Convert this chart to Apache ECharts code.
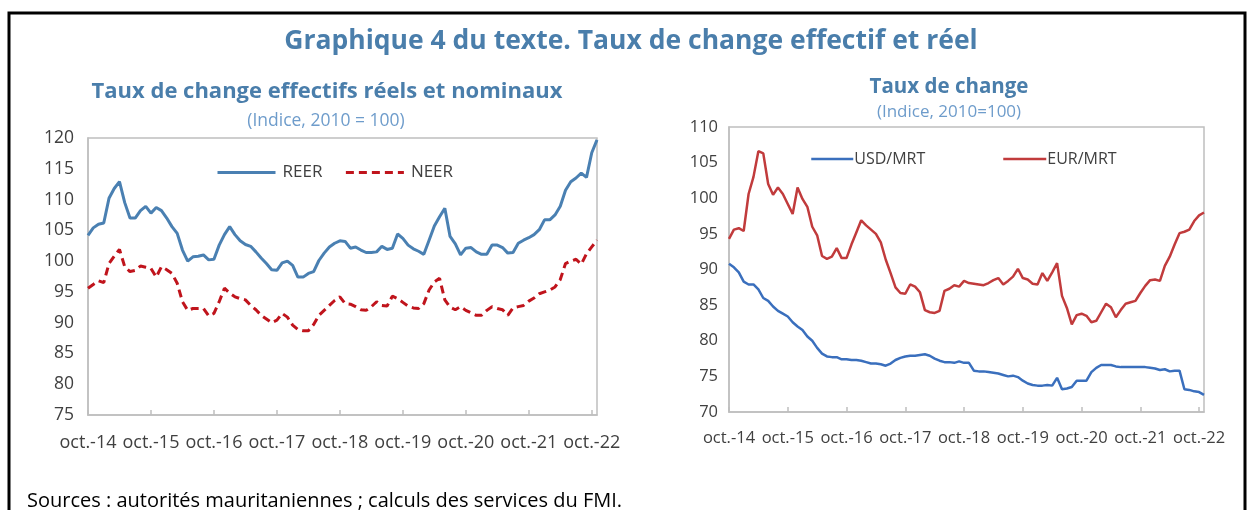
<!DOCTYPE html>
<html>
<head>
<meta charset="utf-8">
<script src="https://cdn.jsdelivr.net/npm/echarts@6/dist/echarts.min.js"></script>
<style>
html,body{margin:0;padding:0;background:#fff;}
#chart{width:1248px;height:510px;}
</style>
</head>
<body>
<div id="chart"></div>
<script>
// ---- Data ----
const monthNames = ['janv.','févr.','mars','avr.','mai','juin','juil.','août','sept.','oct.','nov.','déc.'];
const startMonthIndex = 9;   // oct.
const startYear = 14;        // 2014
const nMonths = 98;          // oct.-14 ... nov.-22
const categories = [];
for (let k = 0; k < nMonths; k++) {
  const m = (startMonthIndex + k) % 12;
  const y = startYear + Math.floor((startMonthIndex + k) / 12);
  categories.push(monthNames[m] + '-' + y);
}
const xTickLabels = ['oct.-14','oct.-15','oct.-16','oct.-17','oct.-18','oct.-19','oct.-20','oct.-21','oct.-22'];
const leftYTicks = [75, 80, 85, 90, 95, 100, 105, 110, 115, 120];
const rightYTicks = [70, 75, 80, 85, 90, 95, 100, 105, 110];

const reer = [
  104.2,105.4,106.0,106.2,110.2,111.8,112.9,109.5,107.0,107.0,108.2,108.9,
  107.8,108.7,108.2,107.0,105.6,104.5,101.8,100.0,100.7,100.8,101.0,100.2,
  100.3,102.6,104.3,105.6,104.3,103.3,102.7,102.4,101.5,100.5,99.6,98.6,
  98.5,99.7,100.0,99.3,97.4,97.4,98.0,98.3,100.1,101.3,102.3,102.9,
  103.3,103.2,102.1,102.3,101.8,101.4,101.4,101.5,102.4,101.9,102.1,104.4,
  103.7,102.6,102.0,101.6,101.1,103.4,105.7,107.2,108.6,104.0,102.8,101.0,
  102.1,102.2,101.5,101.1,101.1,102.6,102.6,102.2,101.3,101.4,102.9,103.4,
  103.8,104.3,105.1,106.7,106.7,107.5,108.9,111.5,112.9,113.5,114.3,113.6,
  117.6,119.7
];
const neer = [
  95.6,96.2,96.8,96.5,99.6,100.8,101.9,99.1,98.3,98.5,99.2,99.0,
  98.8,97.4,99.1,98.6,98.0,96.4,93.4,92.0,92.3,92.3,92.3,91.1,
  91.5,93.4,95.6,94.8,94.2,93.9,93.7,92.8,92.1,91.2,90.6,90.0,
  90.4,91.5,90.9,89.6,88.9,88.7,88.7,89.7,91.2,92.0,92.8,93.6,
  94.2,93.1,93.0,92.6,92.1,92.0,92.6,93.4,92.8,92.7,94.3,93.9,
  93.3,92.7,92.4,92.3,93.1,95.3,96.6,97.2,93.7,92.5,92.1,92.6,
  92.0,91.6,91.2,91.2,92.0,92.6,92.3,92.1,91.2,92.4,92.6,92.8,
  93.5,94.0,94.7,95.0,95.3,95.8,97.0,99.6,100.0,100.3,99.5,101.2,
  102.3,103.4
];
const usdMrt = [
  90.8,90.3,89.6,88.3,87.9,87.9,87.2,86.0,85.6,84.8,84.2,83.8,
  83.4,82.6,82.0,81.5,80.6,80.0,79.0,78.2,77.8,77.7,77.7,77.4,
  77.4,77.3,77.3,77.2,77.0,76.8,76.8,76.7,76.5,76.8,77.3,77.6,
  77.8,77.9,77.9,78.0,78.1,77.9,77.5,77.2,77.0,77.0,76.9,77.1,
  76.9,76.9,75.8,75.7,75.7,75.6,75.5,75.4,75.2,75.0,75.1,74.9,
  74.4,74.0,73.8,73.7,73.7,73.8,73.7,74.8,73.2,73.3,73.5,74.4,
  74.4,74.4,75.6,76.2,76.6,76.6,76.6,76.4,76.3,76.3,76.3,76.3,
  76.3,76.3,76.2,76.1,75.9,76.0,75.7,75.8,75.8,73.2,73.1,72.9,
  72.8,72.4
];
const eurMrt = [
  94.3,95.6,95.8,95.4,100.6,103.0,106.6,106.3,102.0,100.5,101.5,100.6,
  99.2,97.8,101.5,99.9,98.8,96.0,94.8,91.9,91.5,91.8,93.0,91.6,
  91.6,93.5,95.2,96.9,96.2,95.6,95.0,93.8,91.4,89.5,87.5,86.7,
  86.6,87.9,87.6,86.8,84.3,84.0,83.9,84.2,87.0,87.3,87.8,87.6,
  88.4,88.1,88.0,87.9,87.8,88.1,88.5,88.8,87.9,88.4,89.0,90.1,
  88.8,88.6,88.0,87.9,89.5,88.4,89.6,90.9,86.3,84.6,82.3,83.6,
  83.8,83.5,82.6,82.8,84.0,85.2,84.7,83.3,84.3,85.2,85.4,85.6,
  86.7,87.7,88.5,88.6,88.4,90.5,91.8,93.5,95.1,95.3,95.6,96.8,
  97.6,98.0
];

// ---- Chart ----
const FONT = '"Open Sans", "Noto Sans", sans-serif';
const TITLE_BLUE = '#4a7eab';
const SUB_BLUE = '#6e9ccb';
const AXIS_TEXT = '#404040';
const AXIS_LINE = '#bfbfbf';

const showTick = (idx) => xTickLabels.indexOf(categories[idx]) >= 0;

function xAxisFor(gridIndex, fontSize, margin) {
  return {
    type: 'category', gridIndex: gridIndex, data: categories, boundaryGap: false,
    axisLine: { show: true, lineStyle: { color: AXIS_LINE, width: 1.5 } },
    axisTick: { show: true, inside: true, length: 5, interval: (i) => showTick(i), lineStyle: { color: AXIS_LINE, width: 1.5 } },
    axisLabel: { interval: (i) => showTick(i), color: AXIS_TEXT, fontSize: fontSize, fontFamily: FONT, margin: margin },
    splitLine: { show: false }
  };
}
function yAxisFor(gridIndex, ticks, fontSize, margin) {
  return {
    type: 'value', gridIndex: gridIndex, min: ticks[0], max: ticks[ticks.length - 1], interval: ticks[1] - ticks[0],
    axisLine: { show: true, lineStyle: { color: AXIS_LINE, width: 1.5 } },
    axisTick: { show: false },
    axisLabel: { color: AXIS_TEXT, fontSize: fontSize, fontFamily: FONT, margin: margin },
    splitLine: { show: false }
  };
}
const hiddenMarker = { color: 'rgba(0,0,0,0)', borderColor: 'rgba(0,0,0,0)', borderWidth: 0, opacity: 0 };

const chart = echarts.init(document.getElementById('chart'), null, { renderer: 'canvas' });
chart.setOption({
  backgroundColor: '#ffffff',
  animation: false,
  graphic: [
    { type: 'rect', shape: { x: 9, y: 13, width: 1236, height: 520 }, style: { fill: 'none', stroke: '#000', lineWidth: 3 }, silent: true, z: -10 }
  ],
  title: [
    { text: 'Graphique 4 du texte. Taux de change effectif et réel', left: 626, top: 23, textAlign: 'center',
      textStyle: { color: TITLE_BLUE, fontSize: 26.5, fontWeight: 'bold', fontFamily: FONT } },
    { text: 'Taux de change effectifs réels et nominaux', left: 322, top: 76, textAlign: 'center',
      textStyle: { color: TITLE_BLUE, fontSize: 22, fontWeight: 'bold', fontFamily: FONT } },
    { text: '(Indice, 2010 = 100)', left: 321, top: 107, textAlign: 'center',
      textStyle: { color: SUB_BLUE, fontSize: 17.5, fontWeight: 'normal', fontFamily: FONT } },
    { text: 'Taux de change', left: 944, top: 72, textAlign: 'center',
      textStyle: { color: TITLE_BLUE, fontSize: 20.5, fontWeight: 'bold', fontFamily: FONT } },
    { text: '(Indice, 2010=100)', left: 944, top: 99, textAlign: 'center',
      textStyle: { color: SUB_BLUE, fontSize: 17, fontWeight: 'normal', fontFamily: FONT } },
    { text: 'Sources : autorités mauritaniennes ; calculs des services du FMI.', left: 22, top: 486,
      textStyle: { color: '#000', fontSize: 20, fontWeight: 'normal', fontFamily: FONT } }
  ],
  legend: [
    { data: ['REER', 'NEER'], left: 216, top: 164, padding: 0, itemWidth: 58, itemHeight: 20, itemGap: 22, itemStyle: hiddenMarker,
      lineStyle: { width: 3 },
      textStyle: { color: AXIS_TEXT, fontSize: 17, fontFamily: FONT, padding: [0, 0, 0, 2] } },
    { data: ['USD/MRT'], left: 810, top: 151, padding: 0, itemWidth: 42, itemHeight: 18, itemGap: 4, itemStyle: hiddenMarker,
      lineStyle: { width: 2.5 },
      textStyle: { color: AXIS_TEXT, fontSize: 16, fontFamily: FONT, padding: [0, 0, 0, -4] } },
    { data: ['EUR/MRT'], left: 1002, top: 151, padding: 0, itemWidth: 43, itemHeight: 18, itemGap: 4, itemStyle: hiddenMarker,
      lineStyle: { width: 2.5 },
      textStyle: { color: AXIS_TEXT, fontSize: 16, fontFamily: FONT, padding: [0, 0, 0, -4] } }
  ],
  grid: [
    { left: 88, top: 138, width: 509, height: 277, show: true, borderColor: AXIS_LINE, borderWidth: 1.5, backgroundColor: 'transparent' },
    { left: 729, top: 127, width: 475, height: 285, show: true, borderColor: AXIS_LINE, borderWidth: 1.5, backgroundColor: 'transparent' }
  ],
  xAxis: [ xAxisFor(0, 18, 19), xAxisFor(1, 16.5, 18) ],
  yAxis: [ yAxisFor(0, leftYTicks, 17.5, 14), yAxisFor(1, rightYTicks, 16.5, 11) ],
  series: [
    { name: 'REER', type: 'line', xAxisIndex: 0, yAxisIndex: 0, data: reer, showSymbol: false, symbol: 'none',
      lineStyle: { color: '#4a80b2', width: 3 }, itemStyle: { color: '#4a80b2' } },
    { name: 'NEER', type: 'line', xAxisIndex: 0, yAxisIndex: 0, data: neer, showSymbol: false, symbol: 'none',
      lineStyle: { color: '#c0141c', width: 3, type: [8, 5] }, itemStyle: { color: '#c0141c' } },
    { name: 'USD/MRT', type: 'line', xAxisIndex: 1, yAxisIndex: 1, data: usdMrt, showSymbol: false, symbol: 'none',
      lineStyle: { color: '#3a6fbd', width: 2.5 }, itemStyle: { color: '#3a6fbd' } },
    { name: 'EUR/MRT', type: 'line', xAxisIndex: 1, yAxisIndex: 1, data: eurMrt, showSymbol: false, symbol: 'none',
      lineStyle: { color: '#c13b3c', width: 2.5 }, itemStyle: { color: '#c13b3c' } }
  ]
});
</script>
</body>
</html>
